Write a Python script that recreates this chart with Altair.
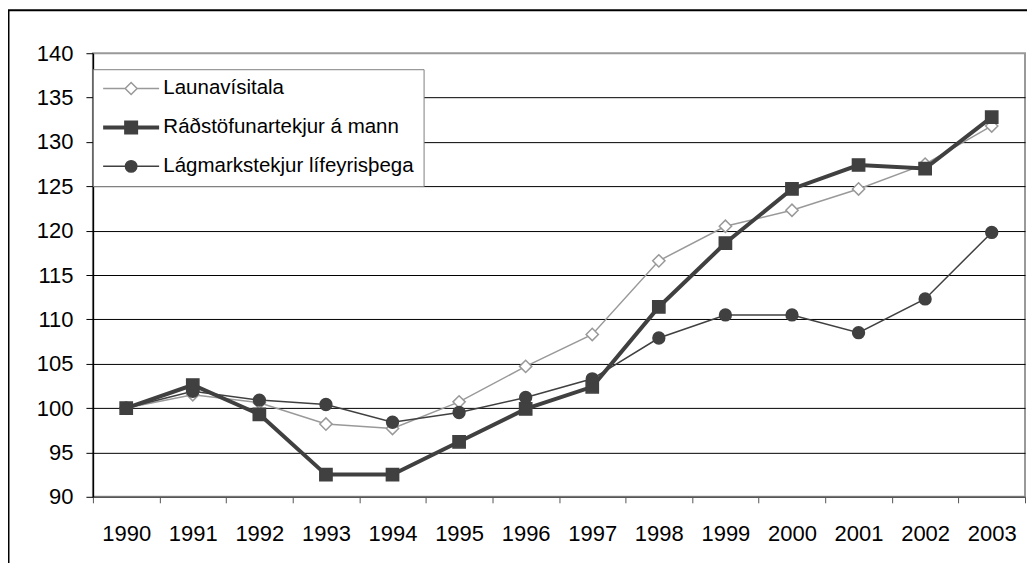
import altair as alt
import pandas as pd

years = list(range(1990, 2004))
series = ["Launavísitala", "Ráðstöfunartekjur á mann", "Lágmarkstekjur lífeyrisþega"]
launavisitala = [100, 101.5, 100.6, 98.2, 97.7, 100.7, 104.7, 108.3, 116.6, 120.5, 122.3, 124.7, 127.5, 131.8]
radstofunartekjur = [100, 102.6, 99.3, 92.5, 92.5, 96.2, 99.9, 102.4, 111.4, 118.6, 124.7, 127.4, 127.0, 132.8]
lagmarkstekjur = [100, 101.9, 100.9, 100.4, 98.4, 99.5, 101.2, 103.3, 107.9, 110.5, 110.5, 108.5, 112.3, 119.8]
y_ticks = list(range(90, 141, 5))

rows = []
for name, vals in zip(series, [launavisitala, radstofunartekjur, lagmarkstekjur]):
    for yr, v in zip(years, vals):
        rows.append({"year": yr, "value": v, "series": name})
df = pd.DataFrame(rows)

GREY = "#999999"
DARK = "#404040"
FONT = "Liberation Sans"

x_enc = alt.X(
    "year:Q",
    scale=alt.Scale(domain=[years[0] - 0.5, years[-1] + 0.5], nice=False, zero=False),
    axis=alt.Axis(
        values=[y - 0.5 for y in years] + [years[-1] + 0.5],
        labelExpr="datum.value < 2003 ? format(datum.value + 0.5, 'd') : ''",
        labelOffset=33.3, labelFlush=False, labelOverlap=False, labelBound=False,
        tickSize=6, tickColor="#555555", domainColor="#555555", domainWidth=1.5,
        labelPadding=21, labelFontSize=22, labelFont=FONT, labelColor="black",
        grid=False, title=None,
    ),
)
y_enc = alt.Y(
    "value:Q",
    scale=alt.Scale(domain=[90, 140], nice=False, zero=False),
    axis=alt.Axis(
        values=y_ticks, tickSize=7, labelPadding=13, labelFontSize=22, labelFont=FONT,
        labelColor="black", tickColor="black", domainColor="black", domainWidth=1.5,
        gridColor={"condition": {"test": "datum.value >= 140 || datum.value <= 90", "value": "transparent"}, "value": "black"},
        gridWidth=1, title=None,
    ),
)

def stroke_scale():
    return alt.Scale(type="ordinal", domain=series, range=[GREY, DARK, DARK])

def fill_scale():
    return alt.Scale(type="ordinal", domain=series, range=["white", DARK, DARK])

def sw_scale():
    return alt.Scale(type="ordinal", domain=series, range=[1.5, 4, 1.5])

lines = alt.Chart(df).mark_line().encode(
    x=x_enc, y=y_enc,
    stroke=alt.Stroke("series:N", scale=stroke_scale(), legend=None),
    strokeWidth=alt.StrokeWidth("series:N", scale=sw_scale(), legend=None),
    detail="series:N",
)

points = alt.Chart(df).mark_point(filled=True, strokeWidth=1.5, opacity=1).encode(
    x=x_enc, y=y_enc,
    shape=alt.Shape("series:N", scale=alt.Scale(type="ordinal", domain=series, range=["diamond", "square", "circle"]), legend=None),
    fill=alt.Fill("series:N", scale=fill_scale(), legend=None),
    stroke=alt.Stroke("series:N", scale=stroke_scale(), legend=None),
    size=alt.Size("series:N", scale=alt.Scale(type="ordinal", domain=series, range=[150, 150, 140]), legend=None),
)

legend_paths = [
    "M-4.31,0L-0.92,0M-0.92,0L0,-0.92L0.92,0L0,0.92ZM0.92,0L4.31,0",
    "M-4.31,0L4.31,0M-0.77,-0.77L0.77,-0.77L0.77,0.77L-0.77,0.77Z",
    "M-4.31,0L4.31,0M0.88,0A0.88,0.88 0 1,1 -0.88,0A0.88,0.88 0 1,1 0.88,0Z",
]
leg = alt.Legend(
    title=None, orient="none", legendX=0, legendY=16, direction="vertical",
    symbolSize=169, symbolOffset=19, labelOffset=22, padding=9, rowPadding=15,
    labelFontSize=20.5, labelFont=FONT, labelColor="black",
    fillColor="white", strokeColor="#808080", labelLimit=400,
)
legend_layer = alt.Chart(df).transform_filter("false").mark_point(filled=True, size=169, opacity=1).encode(
    x=x_enc, y=y_enc,
    shape=alt.Shape("series:N", scale=alt.Scale(type="ordinal", domain=series, range=legend_paths), legend=leg),
    fill=alt.Fill("series:N", scale=fill_scale(), legend=leg),
    stroke=alt.Stroke("series:N", scale=stroke_scale(), legend=leg),
    strokeWidth=alt.StrokeWidth("series:N", scale=sw_scale(), legend=leg),
)

frame = alt.Chart(pd.DataFrame({"a": [0]})).mark_rect(fill=None, stroke="black", strokeWidth=2).encode(
    x=alt.value(-84.5), x2=alt.value(3000), y=alt.value(-43), y2=alt.value(3000)
)

chart = alt.layer(frame, lines, points, legend_layer).resolve_scale(
    shape="independent", fill="independent", stroke="independent",
    strokeWidth="independent", size="independent",
).properties(
    width=933, height=444,
    autosize=alt.AutoSizeParams(type="none"),
    padding={"left": 85, "top": 45, "right": 2, "bottom": 66},
).configure_view(stroke=GREY, strokeWidth=2)

chart.save("out.html", embed_options={"renderer": "svg", "actions": False})
